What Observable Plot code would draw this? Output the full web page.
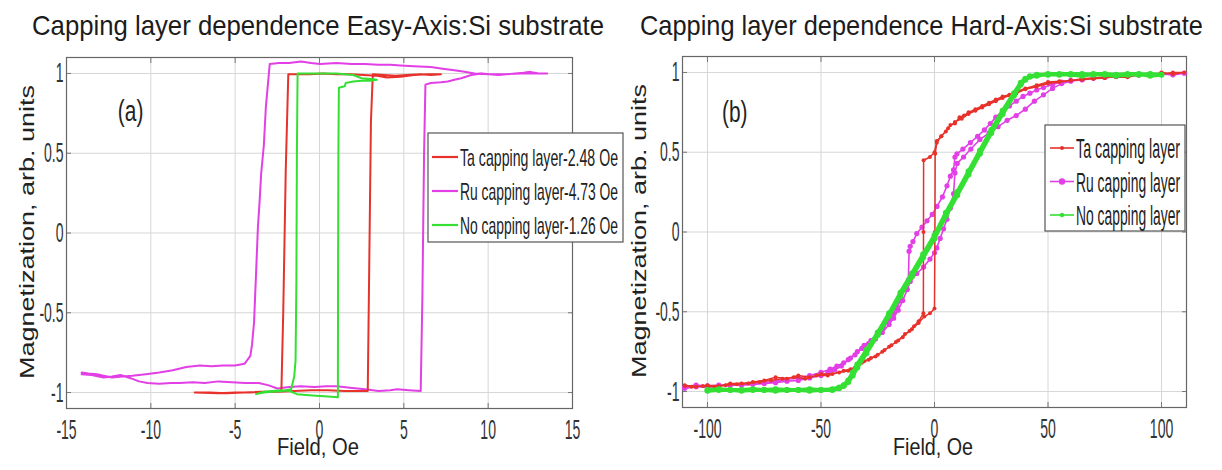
<!DOCTYPE html>
<html><head><meta charset="utf-8">
<script src="https://cdn.jsdelivr.net/npm/d3@7"></script>
<script src="https://cdn.jsdelivr.net/npm/@observablehq/plot@0.6"></script>
<style>
body{margin:0;background:#fff;}
#wrap{position:relative;width:1222px;height:470px;overflow:hidden;background:#fff;}
.panel{position:absolute;top:40px;}
#overlay{position:absolute;left:0;top:0;pointer-events:none;}
</style></head><body><div id="wrap"></div>
<script>
// ---------- labels ----------
const titles = ["Capping layer dependence Easy-Axis:Si substrate", "Capping layer dependence Hard-Axis:Si substrate"];
const xLabel = "Field, Oe";
const yLabel = "Magnetization, arb. units";
const seriesNames = ["Ta capping layer", "Ru capping layer", "No capping layer"];
const seriesColors = ["#e8312b", "#e23fe6", "#34e034"];
const easyLegend = ["Ta capping layer-2.48 Oe", "Ru capping layer-4.73 Oe", "No capping layer-1.26 Oe"];
const hardLegend = ["Ta capping layer", "Ru capping layer", "No capping layer"];
const panelLabels = ["(a)", "(b)"];
const panelLabelX = [-11.2, -88];
const panelLabelY = [0.76, 0.75];
const easyXTicks = [-15, -10, -5, 0, 5, 10, 15];
const hardXTicks = [-100, -50, 0, 50, 100];
const yTicks = [-1, -0.5, 0, 0.5, 1];

// ---------- easy axis loops [field Oe, M] ----------
const easyTa = [[-7.4,-1.0],[-6.5,-1.0],[-5.5,-1.005],[-4.5,-1.0],[-3.5,-0.995],[-2.5,-0.995],[-1.5,-0.99],[-0.5,-0.985],[0.5,-0.985],[1.5,-0.99],[2.3,-0.99],[2.86,-0.99],[2.95,-0.2],[3.05,0.7],[3.16,0.995],[3.8,0.99],[4.5,0.985],[5.2,0.99],[6,0.995],[6.6,0.99],[7.2,0.995],
  [6.4,0.995],[5.6,0.99],[4.8,0.98],[4.0,0.975],[3.4,0.985],[2.6,0.99],[1.8,0.995],[1,0.995],[0.2,1.0],[-0.6,0.995],[-1.3,0.995],[-1.85,0.995],[-2.0,0.4],[-2.15,-0.5],[-2.26,-0.99],[-3,-0.995],[-4,-1.0],[-5,-1.0],[-6,-1.005],[-7.4,-1.0]];
const easyRu = [[-14.1,-0.885],[-13.5,-0.89],[-12.8,-0.906],[-12.3,-0.9],[-11.8,-0.89],[-11.2,-0.91],[-10.7,-0.93],[-10.2,-0.94],[-9.5,-0.945],[-8.8,-0.94],[-8.3,-0.94],[-7.5,-0.935],[-6.8,-0.94],[-6,-0.93],[-5.2,-0.935],[-4.4,-0.94],[-3.6,-0.94],[-3,-0.955],[-2.5,-0.975],[-1.8,-0.965],[-1.1,-0.96],[-0.3,-0.965],[0.4,-0.96],[1.05,-0.96],[1.8,-0.97],[2.7,-0.98],[3.5,-0.99],[4.2,-0.985],[4.6,-0.98],[5.3,-0.985],[6.0,-0.99],[6.1,-0.4],[6.2,0.5],[6.28,0.93],[6.6,0.94],[7.2,0.945],[7.6,0.95],[8.0,0.96],[8.4,0.97],[9.0,0.99],[9.6,1.0],[10.1,0.995],[10.6,0.99],[11.1,0.995],[11.6,1.0],[12.1,1.005],[12.5,1.01],[13.0,1.0],[13.5,1.0],
  [13.0,1.0],[12.0,1.0],[11.0,0.995],[10.0,0.995],[9.2,1.0],[8.6,1.01],[8.0,1.02],[7.3,1.03],[6.6,1.04],[5.6,1.045],[4.8,1.05],[4.2,1.054],[3.5,1.055],[2.7,1.06],[1.9,1.06],[1.0,1.065],[0.05,1.06],[-0.5,1.065],[-1.1,1.075],[-1.8,1.065],[-2.4,1.065],[-2.95,1.06],[-3.0,1.0],[-3.18,0.79],[-3.3,0.55],[-3.46,0.37],[-3.55,0.2],[-3.65,0.04],[-3.76,-0.25],[-3.88,-0.56],[-4.0,-0.7],[-4.1,-0.77],[-4.45,-0.82],[-5.0,-0.83],[-5.7,-0.83],[-6.4,-0.835],[-7.1,-0.83],[-7.9,-0.84],[-8.7,-0.86],[-9.5,-0.875],[-10.3,-0.885],[-11.1,-0.895],[-11.7,-0.9],[-12.3,-0.906],[-12.8,-0.895],[-13.2,-0.885],[-13.7,-0.88],[-14.1,-0.875]];
const easyNo = [[-3.76,-1.01],[-3.3,-0.995],[-2.8,-0.99],[-2.3,-0.985],[-1.8,-0.99],[-1.34,-1.01],[-0.8,-1.015],[-0.2,-1.02],[0.5,-1.025],[1.09,-1.03],[1.1,-0.3],[1.12,0.5],[1.15,0.91],[1.5,0.92],[1.55,0.94],[2.0,0.95],[2.5,0.955],[3.0,0.955],[3.4,0.96],
  [3.0,0.965],[2.5,0.97],[2.0,0.99],[1.5,0.995],[1.0,1.0],[0.3,1.0],[-0.5,1.0],[-1.0,1.0],[-1.3,1.0],[-1.34,0.5],[-1.37,-0.3],[-1.42,-0.8],[-1.5,-0.9],[-1.68,-0.98],[-2.2,-0.99],[-2.8,-0.995],[-3.3,-1.0],[-3.76,-1.01]];

// ---------- hard axis loops [field Oe, M] ----------
const hardTa = [[-110,-0.96],[-105,-0.97],[-100,-0.96],[-95,-0.965],[-90,-0.95],[-85,-0.95],[-80,-0.94],[-75,-0.93],[-70,-0.91],[-65,-0.92],[-60,-0.9],[-55,-0.91],[-50,-0.89],[-45,-0.89],[-40,-0.87],[-37,-0.86],[-34,-0.84],[-31,-0.81],[-28,-0.79],[-25,-0.77],[-22,-0.74],[-19,-0.71],[-16,-0.68],[-13,-0.64],[-10,-0.61],[-7,-0.57],[-4.5,-0.53],[-2,-0.51],[0,-0.48],[0.2,0.0],[0.3,0.49],[1,0.56],[3,0.6],[5,0.63],[7,0.67],[9,0.68],[11,0.72],[13,0.73],[15,0.75],[18,0.77],[21,0.79],[24,0.81],[27,0.83],[30,0.85],[33,0.86],[36,0.88],[40,0.9],[45,0.92],[50,0.94],[55,0.945],[60,0.95],[65,0.96],[70,0.965],[75,0.97],[80,0.97],[85,0.98],[90,0.98],[95,0.99],[100,0.99],[105,1.0],[110,1.0],
  [105,0.99],[100,1.0],[95,0.98],[90,0.985],[85,0.97],[80,0.975],[75,0.965],[70,0.96],[65,0.955],[60,0.95],[55,0.94],[50,0.93],[45,0.91],[40,0.895],[36,0.87],[33,0.855],[30,0.84],[27,0.82],[24,0.8],[21,0.78],[18,0.76],[15,0.74],[12,0.71],[9,0.69],[6,0.65],[3,0.6],[1,0.57],[0,0.5],[-2,0.47],[-4.8,0.45],[-4.85,0.0],[-4.9,-0.51],[-7,-0.56],[-9,-0.59],[-11,-0.62],[-14,-0.66],[-17,-0.69],[-20,-0.72],[-23,-0.75],[-26,-0.78],[-29,-0.8],[-32,-0.82],[-35,-0.85],[-38,-0.87],[-42,-0.88],[-47,-0.9],[-52,-0.9],[-57,-0.92],[-62,-0.91],[-67,-0.92],[-72,-0.93],[-77,-0.94],[-82,-0.95],[-87,-0.955],[-92,-0.96],[-97,-0.97],[-102,-0.965],[-107,-0.97],[-110,-0.965]];
const hardRu = [[-110,-0.98],[-105,-0.97],[-100,-0.975],[-95,-0.965],[-90,-0.96],[-85,-0.96],[-80,-0.955],[-75,-0.95],[-70,-0.945],[-65,-0.935],[-60,-0.93],[-55,-0.915],[-50,-0.9],[-47,-0.885],[-44,-0.865],[-41,-0.84],[-38,-0.8],[-35,-0.77],[-32,-0.73],[-29,-0.7],[-26,-0.67],[-23,-0.63],[-20,-0.58],[-18,-0.54],[-16,-0.49],[-14,-0.43],[-12,-0.36],[-10.7,-0.31],[-7.8,-0.26],[-4.8,-0.22],[-2,-0.17],[0,-0.13],[1,-0.1],[2.5,-0.04],[4,0.02],[5.5,0.08],[7,0.15],[8.4,0.24],[9,0.37],[10,0.43],[12.8,0.47],[16,0.52],[20,0.58],[24,0.62],[28,0.66],[32,0.7],[36,0.73],[40,0.77],[44,0.82],[48,0.86],[52,0.9],[56,0.93],[60,0.945],[65,0.955],[70,0.965],[75,0.97],[80,0.975],[85,0.98],[90,0.985],[95,0.99],[100,0.99],[105,0.985],[110,0.995],
  [105,0.99],[100,0.995],[95,0.985],[90,0.99],[85,0.98],[80,0.975],[75,0.97],[70,0.965],[65,0.955],[60,0.95],[56,0.94],[52,0.925],[48,0.905],[45,0.89],[42,0.87],[39,0.85],[36,0.82],[33,0.79],[30,0.76],[27,0.72],[24.6,0.68],[22,0.64],[19,0.6],[15.8,0.56],[12.5,0.52],[9.9,0.49],[9,0.47],[8.4,0.39],[7,0.35],[5.5,0.29],[3.5,0.22],[1.1,0.16],[-1,0.11],[-3.3,0.07],[-5.5,0.03],[-7.8,-0.01],[-9.5,-0.06],[-10.7,-0.09],[-11.2,-0.12],[-11.5,-0.3],[-12.5,-0.33],[-13.6,-0.36],[-15,-0.43],[-16.5,-0.47],[-18,-0.51],[-20,-0.55],[-22.5,-0.6],[-25,-0.64],[-28,-0.68],[-31,-0.71],[-34,-0.75],[-37,-0.79],[-40,-0.82],[-43,-0.84],[-46,-0.86],[-50,-0.88],[-55,-0.9],[-60,-0.915],[-65,-0.925],[-70,-0.935],[-75,-0.945],[-80,-0.95],[-85,-0.955],[-90,-0.96],[-95,-0.96],[-100,-0.965],[-105,-0.96],[-110,-0.97]];
const hardNo = [[-100,-0.995],[-95,-0.99],[-90,-0.99],[-85,-0.995],[-80,-0.99],[-75,-0.99],[-70,-0.995],[-65,-0.99],[-60,-0.99],[-55,-0.995],[-50,-0.99],[-45,-0.99],[-42,-0.98],[-40,-0.965],[-38,-0.94],[-36,-0.9],[-34,-0.85],[-30,-0.76],[-25,-0.645],[-20,-0.525],[-15,-0.4],[-10,-0.28],[-5,-0.16],[0,-0.04],[5,0.1],[10,0.23],[15,0.36],[20,0.49],[25,0.62],[30,0.74],[35,0.855],[38,0.925],[40,0.955],[42,0.975],[45,0.98],[50,0.99],[55,0.985],[60,0.99],[65,0.99],[70,0.985],[75,0.99],[80,0.985],[85,0.99],[90,0.985],[95,0.99],[100,0.985],
  [95,0.98],[90,0.99],[85,0.985],[80,0.98],[75,0.985],[70,0.99],[65,0.98],[60,0.985],[55,0.99],[50,0.985],[45,0.985],[42,0.975],[40,0.96],[38,0.935],[35,0.87],[30,0.76],[25,0.64],[20,0.51],[15,0.38],[10,0.25],[5,0.12],[0,-0.02],[-5,-0.14],[-10,-0.26],[-15,-0.38],[-20,-0.51],[-25,-0.63],[-30,-0.74],[-34,-0.83],[-36,-0.88],[-38,-0.93],[-40,-0.96],[-42,-0.975],[-45,-0.985],[-50,-0.99],[-55,-0.985],[-60,-0.99],[-65,-0.99],[-70,-0.985],[-75,-0.99],[-80,-0.985],[-85,-0.99],[-90,-0.99],[-95,-0.985],[-100,-0.99]];

// ---------- build ----------
const rows = (pts, s) => pts.map(([h, m]) => ({h, m, s}));
const color = {domain: seriesNames, range: seriesColors};
const wrap = document.getElementById("wrap");
const FONT = "'Liberation Sans', Arial, sans-serif";
const baseStyle = {fontFamily: FONT, color: "#333", background: "#fff", overflow: "visible"};
const gridOpts = {stroke: "#d6d6d6", strokeOpacity: 1, strokeWidth: 1};
const TICK_FS = 28;

function frameMarks(xTicks) {
  return [
    Plot.gridX(xTicks, gridOpts),
    Plot.gridY(yTicks, gridOpts),
    Plot.text(xTicks, {x: d => d, frameAnchor: "bottom", lineAnchor: "top", dy: 11, text: d => String(d),
      fontSize: TICK_FS, fontFamily: FONT, fill: "#333", ariaLabel: () => "tick"}),
    Plot.text(yTicks, {y: d => d, frameAnchor: "left", textAnchor: "end", dx: -3, text: d => String(d),
      fontSize: TICK_FS, fontFamily: FONT, fill: "#333", ariaLabel: () => "tick"}),
    Plot.axisX(xTicks, {anchor: "bottom", tickSize: -5, label: null, tickFormat: () => "", stroke: "#777"}),
    Plot.axisX(xTicks, {anchor: "top", tickSize: -5, label: null, tickFormat: () => "", stroke: "#777"}),
    Plot.axisY(yTicks, {anchor: "left", tickSize: -5, label: null, tickFormat: () => "", stroke: "#777"}),
    Plot.axisY(yTicks, {anchor: "right", tickSize: -5, label: null, tickFormat: () => "", stroke: "#777"}),
    Plot.frame({stroke: "#666", strokeWidth: 1.2})
  ];
}

const leftPlot = Plot.plot({
  width: 611, height: 430,
  marginLeft: 66, marginRight: 39, marginTop: 17, marginBottom: 62,
  x: {domain: [-15, 15]}, y: {domain: [-1.1, 1.1]}, color,
  style: baseStyle,
  marks: [
    ...frameMarks(easyXTicks),
    Plot.line(rows(easyRu, seriesNames[1]), {x: "h", y: "m", stroke: "s", strokeWidth: 2}),
    Plot.line(rows(easyTa, seriesNames[0]), {x: "h", y: "m", stroke: "s", strokeWidth: 2}),
    Plot.line(rows(easyNo, seriesNames[2]), {x: "h", y: "m", stroke: "s", strokeWidth: 2}),
    Plot.text([0], {x: () => panelLabelX[0], y: () => panelLabelY[0], text: () => panelLabels[0], fontSize: 29, fontFamily: FONT, fill: "#222", ariaLabel: () => "panel"})
  ]
});

const rightPlot = Plot.plot({
  width: 611, height: 430,
  marginLeft: 71, marginRight: 36, marginTop: 16, marginBottom: 63,
  x: {domain: [-111, 111]}, y: {domain: [-1.1, 1.1]}, color,
  style: baseStyle,
  marks: [
    ...frameMarks(hardXTicks),
    Plot.line(rows(hardRu, seriesNames[1]), {x: "h", y: "m", stroke: "s", strokeWidth: 1.6}),
    Plot.dot(rows(hardRu, seriesNames[1]), {x: "h", y: "m", fill: "s", r: 2.6}),
    Plot.line(rows(hardTa, seriesNames[0]), {x: "h", y: "m", stroke: "s", strokeWidth: 1.5}),
    Plot.dot(rows(hardTa, seriesNames[0]), {x: "h", y: "m", fill: "s", r: 2}),
    Plot.line(rows(hardNo, seriesNames[2]), {x: "h", y: "m", stroke: "s", strokeWidth: 4}),
    Plot.dot(rows(hardNo, seriesNames[2]), {x: "h", y: "m", fill: "s", r: 3}),
    Plot.text([1], {x: () => panelLabelX[1], y: () => panelLabelY[1], text: () => panelLabels[1], fontSize: 29, fontFamily: FONT, fill: "#222", ariaLabel: () => "panel"})
  ]
});

leftPlot.classList.add("panel"); leftPlot.style.left = "0px";
rightPlot.classList.add("panel"); rightPlot.style.left = "611px";
wrap.appendChild(leftPlot);
wrap.appendChild(rightPlot);

// condensed look: squeeze glyphs horizontally with textLength
function squeeze(nodes, k) {
  nodes.forEach(t => {
    const w = t.getComputedTextLength();
    if (w > 0) { t.setAttribute("textLength", (w * k).toFixed(1)); t.setAttribute("lengthAdjust", "spacingAndGlyphs"); }
  });
}
for (const p of [leftPlot, rightPlot]) {
  let ticks = p.querySelectorAll('text[aria-label="tick"]');
  let panels = p.querySelectorAll('text[aria-label="panel"]');
  if (!ticks.length) {
    const all = Array.from(p.querySelectorAll('g[aria-label="text"] text'));
    ticks = all.filter(t => !t.textContent.startsWith("("));
    panels = all.filter(t => t.textContent.startsWith("("));
  }
  squeeze(ticks, 0.5);
  squeeze(panels, 0.72);
}

// ---------- overlay: titles, axis labels, legends ----------
const ov = d3.select(wrap).append("svg").attr("id", "overlay").attr("width", 1222).attr("height", 470)
  .style("font-family", FONT);
const titleSpec = [{x: 32, w: 572}, {x: 640, w: 563}];
titles.forEach((t, i) => ov.append("text").attr("x", titleSpec[i].x).attr("y", 35).attr("font-size", 28).attr("fill", "#1c1c1c")
  .attr("textLength", titleSpec[i].w).attr("lengthAdjust", "spacingAndGlyphs").text(t));
[{cx: 318, w: 82}, {cx: 933, w: 80}].forEach(s => ov.append("text").attr("x", s.cx - s.w / 2).attr("y", 455).attr("font-size", 24)
  .attr("fill", "#222").attr("textLength", s.w).attr("lengthAdjust", "spacingAndGlyphs").text(xLabel));
[{cx: 27, cy: 232}, {cx: 639, cy: 231}].forEach(s => ov.append("text").attr("transform", `translate(${s.cx},${s.cy}) scale(0.78,1) rotate(-90)`)
  .attr("text-anchor", "middle").attr("dy", "0.35em").attr("font-size", 27).attr("fill", "#222").text(yLabel));

// left legend
const lg = ov.append("g");
lg.append("rect").attr("x", 428).attr("y", 133).attr("width", 195).attr("height", 109).attr("fill", "#fff").attr("stroke", "#555").attr("stroke-width", 1.2);
easyLegend.forEach((t, i) => {
  const y = 157 + i * 34;
  lg.append("line").attr("x1", 432).attr("x2", 458).attr("y1", y).attr("y2", y).attr("stroke", seriesColors[i]).attr("stroke-width", 2.2);
  lg.append("text").attr("x", 460).attr("y", y + 8.5).attr("font-size", 24).attr("fill", "#222")
    .attr("textLength", 158).attr("lengthAdjust", "spacingAndGlyphs").text(t);
});
// right legend
const rg = ov.append("g");
rg.append("rect").attr("x", 1045).attr("y", 125).attr("width", 140).attr("height", 106).attr("fill", "#fff").attr("stroke", "#555").attr("stroke-width", 1.2);
const markR = [2, 3.2, 2.2];
hardLegend.forEach((t, i) => {
  const y = 148 + i * 33.5;
  rg.append("line").attr("x1", 1050).attr("x2", 1074).attr("y1", y).attr("y2", y).attr("stroke", seriesColors[i]).attr("stroke-width", 1.6);
  rg.append("circle").attr("cx", 1062).attr("cy", y).attr("r", markR[i]).attr("fill", seriesColors[i]);
  rg.append("text").attr("x", 1076).attr("y", y + 10).attr("font-size", 28).attr("fill", "#222")
    .attr("textLength", 104).attr("lengthAdjust", "spacingAndGlyphs").text(t);
});
</script></body></html>
